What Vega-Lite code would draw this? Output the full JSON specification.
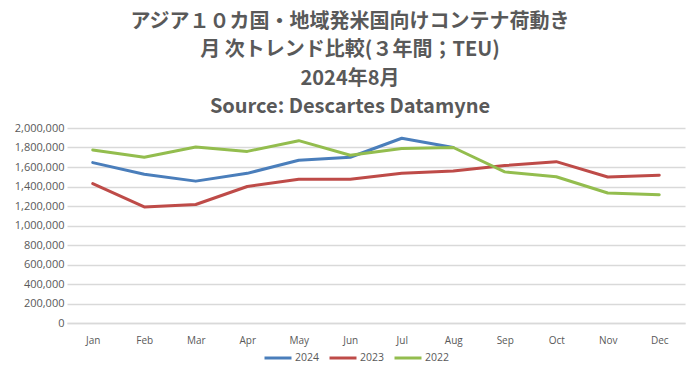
{
  "$schema": "https://vega.github.io/schema/vega-lite/v6.json",
  "autosize": {"type": "none"},
  "padding": {"left": 67, "top": 128, "right": 15, "bottom": 53},
  "width": 618,
  "height": 195,
  "background": "white",
  "title": {
    "text": ["アジア１０カ国・地域発米国向けコンテナ荷動き", "月 次トレンド比較(３年間；TEU)", "2024年8月", "Source: Descartes Datamyne"],
    "anchor": "middle",
    "dx": -26,
    "font": "Noto Sans CJK JP",
    "fontSize": 20,
    "fontWeight": "bold",
    "color": "#595959",
    "lineHeight": 28.5,
    "offset": 5
  },
  "data": {
    "values": [
      {"month": "Jan", "year": "2024", "value": 1645000},
      {"month": "Feb", "year": "2024", "value": 1525000},
      {"month": "Mar", "year": "2024", "value": 1455000},
      {"month": "Apr", "year": "2024", "value": 1535000},
      {"month": "May", "year": "2024", "value": 1670000},
      {"month": "Jun", "year": "2024", "value": 1700000},
      {"month": "Jul", "year": "2024", "value": 1895000},
      {"month": "Aug", "year": "2024", "value": 1800000},
      {"month": "Jan", "year": "2023", "value": 1430000},
      {"month": "Feb", "year": "2023", "value": 1190000},
      {"month": "Mar", "year": "2023", "value": 1215000},
      {"month": "Apr", "year": "2023", "value": 1400000},
      {"month": "May", "year": "2023", "value": 1475000},
      {"month": "Jun", "year": "2023", "value": 1475000},
      {"month": "Jul", "year": "2023", "value": 1535000},
      {"month": "Aug", "year": "2023", "value": 1560000},
      {"month": "Sep", "year": "2023", "value": 1615000},
      {"month": "Oct", "year": "2023", "value": 1655000},
      {"month": "Nov", "year": "2023", "value": 1497000},
      {"month": "Dec", "year": "2023", "value": 1515000},
      {"month": "Jan", "year": "2022", "value": 1775000},
      {"month": "Feb", "year": "2022", "value": 1700000},
      {"month": "Mar", "year": "2022", "value": 1805000},
      {"month": "Apr", "year": "2022", "value": 1760000},
      {"month": "May", "year": "2022", "value": 1870000},
      {"month": "Jun", "year": "2022", "value": 1720000},
      {"month": "Jul", "year": "2022", "value": 1790000},
      {"month": "Aug", "year": "2022", "value": 1800000},
      {"month": "Sep", "year": "2022", "value": 1550000},
      {"month": "Oct", "year": "2022", "value": 1500000},
      {"month": "Nov", "year": "2022", "value": 1333000},
      {"month": "Dec", "year": "2022", "value": 1315000}
    ]
  },
  "mark": {"type": "line", "strokeWidth": 3, "strokeCap": "round", "strokeJoin": "round"},
  "encoding": {
    "x": {
      "field": "month",
      "type": "ordinal",
      "sort": ["Jan", "Feb", "Mar", "Apr", "May", "Jun", "Jul", "Aug", "Sep", "Oct", "Nov", "Dec"],
      "scale": {"type": "point", "padding": 0.5},
      "axis": {
        "title": null,
        "labelAngle": 0,
        "ticks": false,
        "domain": true,
        "domainColor": "#D9D9D9",
        "domainWidth": 1.5,
        "labelPadding": 12,
        "labelFontSize": 10,
        "labelFont": "Open Sans",
        "labelColor": "#595959",
        "grid": false
      }
    },
    "y": {
      "field": "value",
      "type": "quantitative",
      "scale": {"domain": [0, 2000000], "nice": false},
      "axis": {
        "title": null,
        "values": [0, 200000, 400000, 600000, 800000, 1000000, 1200000, 1400000, 1600000, 1800000, 2000000],
        "format": ",.0f",
        "ticks": false,
        "domain": false,
        "labelPadding": 3,
        "labelFontSize": 11,
        "labelFont": "Open Sans",
        "labelColor": "#595959",
        "gridColor": "#D9D9D9",
        "gridWidth": 1.5
      }
    },
    "color": {
      "field": "year",
      "type": "nominal",
      "scale": {"domain": ["2024", "2023", "2022"], "range": ["#4A7EBB", "#BE4B48", "#93BD4E"]},
      "legend": {
        "title": null,
        "orient": "none",
        "direction": "horizontal",
        "legendX": 196,
        "legendY": 215,
        "symbolType": "stroke",
        "symbolSize": 729,
        "symbolStrokeWidth": 3,
        "labelFontSize": 10.5,
        "labelFont": "Open Sans",
        "labelColor": "#595959",
        "labelOffset": 2,
        "columnPadding": 3
      }
    }
  },
  "config": {"view": {"stroke": null}}
}
